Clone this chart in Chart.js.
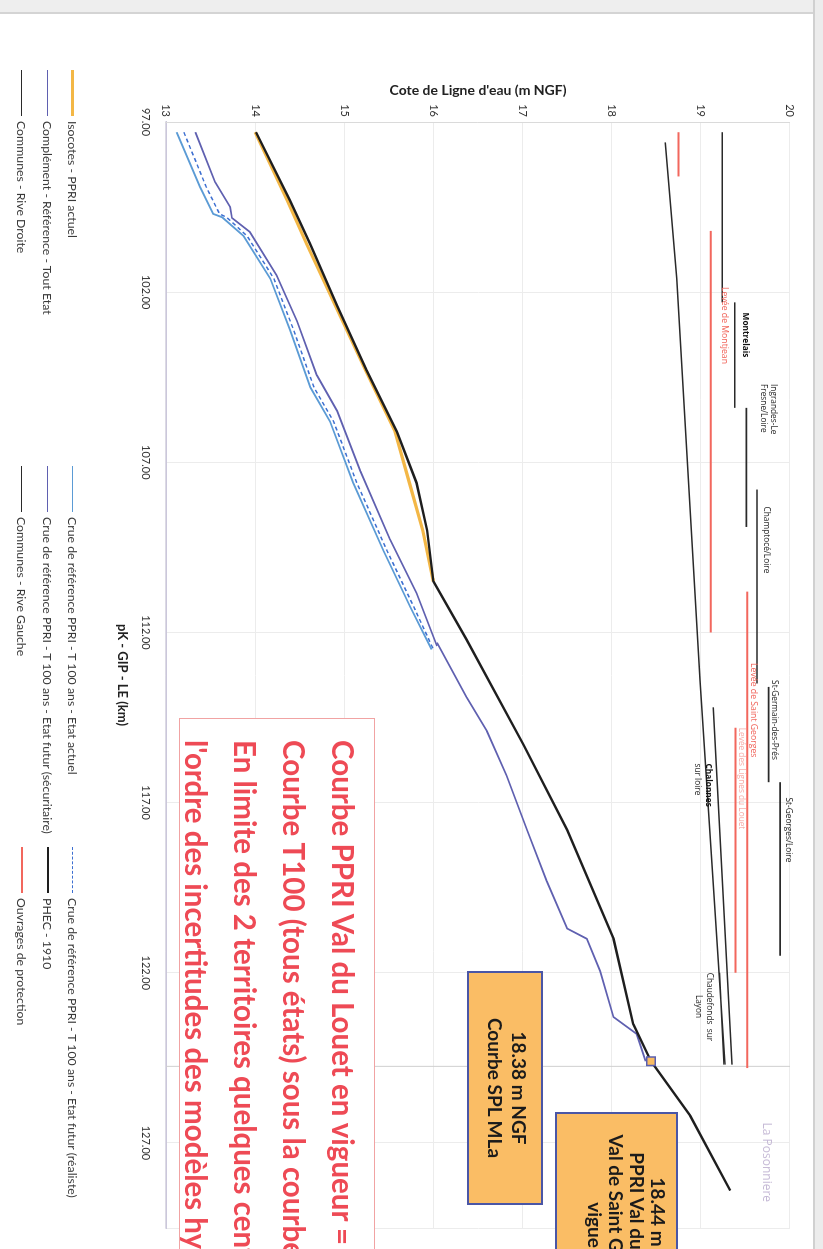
<!DOCTYPE html>
<html lang="fr">
<head>
<meta charset="utf-8">
<title>Lignes d'eau - Loire aval</title>
<script src="https://cdn.jsdelivr.net/npm/chart.js@4.4.1/dist/chart.umd.min.js"></script>
<style>
  html, body { margin:0; padding:0; width:823px; height:1249px; overflow:hidden; background:#fff; }
  /* landscape slide, turned a quarter turn clockwise onto the portrait page */
  #sheet { position:absolute; left:0; top:0; width:1249px; height:823px;
           transform-origin:0 0; transform:translate(823px,0) rotate(90deg);
           background:#fff; overflow:hidden; font-family:Lato,'Open Sans',sans-serif; }
  #sheet canvas { position:absolute; left:0; top:0; }
  .band-a { position:absolute; left:0; top:0; width:12px; height:823px; background:#eeeeee; border-right:2px solid #d4d4d4; }
  .band-b { position:absolute; left:0; top:0; width:1249px; height:8px; background:#ececec; border-bottom:2px solid #d0d0d0; }
  .leg { position:absolute; height:14px; display:flex; align-items:center; white-space:nowrap;
         font-size:12.3px; color:#3a3a3a; }
  .leg .sw { display:inline-block; width:46px; margin-right:5px; height:0; }
  .box { position:absolute; box-sizing:border-box; background:#fabd65; border:2px solid #4a56a6;
         text-align:center; font-weight:bold; color:#1b1b1b; font-size:19px; }
  .note { position:absolute; box-sizing:border-box; background:#fff; border:1.5px solid #f1a3a3;
          color:#ee4a55; font-weight:bold; font-size:29.5px; white-space:nowrap; }
</style>
</head>
<body>
<div id="sheet">
  <canvas id="c" width="1249" height="823" style="width:1249px;height:823px"></canvas>
  <div class="band-a"></div>
  <div class="band-b"></div>
  <div id="legend"></div>
  <div class="box" style="left:971px;top:280px;width:234px;height:76px;padding-top:10px;line-height:24px">18.38 m NGF<br>Courbe SPL MLa</div>
  <div class="box" style="left:1112px;top:145px;width:228px;height:123px;padding:7px 0 0 16px;line-height:21px">18.44 m NGF<br>PPRI Val du Louet /<br>Val de Saint Georges en<br>vigueur</div>
  <div class="note" style="left:718px;top:448px;width:740px;height:196px;padding:6px 0 0 21px;line-height:49px">
    Courbe PPRI Val du Louet en vigueur = PHEC 1910<br>
    Courbe T100 (tous états) sous la courbe PHEC<br>
    En limite des 2 territoires quelques centimètres<br>
    l'ordre des incertitudes des modèles hydrauliques
  </div>
</div>
<script>
// ---- axis ticks ----
const pkTicks   = [97, 102, 107, 112, 117, 122, 127];
const coteTicks = [13, 14, 15, 16, 17, 18, 19, 20];

// ---- water lines: pK (km) and level (m NGF) ----
const phecPk   = [97.3, 99.3, 100.6, 102.4, 104.3, 106.1, 107.6, 109.0, 110.5, 112.2, 115.3, 117.8, 121.0, 123.5, 124.6, 126.2, 128.4];
const phecCote = [14.01, 14.39, 14.62, 14.92, 15.25, 15.59, 15.81, 15.93, 16.00, 16.37, 17.01, 17.50, 18.02, 18.24, 18.44, 18.88, 19.33];

const isoPk   = [97.3, 99.3, 100.6, 102.4, 104.3, 106.1, 107.6, 109.0, 110.5];
const isoCote = [14.00, 14.36, 14.58, 14.90, 15.24, 15.57, 15.73, 15.88, 16.00];

const actuelPk   = [97.3, 98.9, 99.7, 99.8, 100.35, 101.6, 103.1, 104.8, 105.8, 107.6, 109.6, 111.25, 112.5];
const actuelCote = [13.12, 13.38, 13.53, 13.63, 13.87, 14.17, 14.39, 14.62, 14.84, 15.10, 15.44, 15.74, 15.98];

const realistePk   = [97.3, 98.9, 99.7, 99.8, 100.35, 101.6, 103.1, 104.8, 105.8, 107.6, 109.6, 111.25, 112.5];
const realisteCote = [13.20, 13.45, 13.60, 13.68, 13.91, 14.21, 14.43, 14.66, 14.88, 15.14, 15.48, 15.78, 16.00];

const securPk   = [97.3, 98.76, 99.5, 99.82, 100.23, 101.5, 102.85, 104.43, 105.49, 107.26, 109.25, 110.84, 112.4];
const securCote = [13.33, 13.55, 13.72, 13.74, 13.94, 14.24, 14.47, 14.69, 14.92, 15.18, 15.51, 15.81, 16.04];

const complPk   = [112.3, 113.9, 114.9, 116.2, 117.8, 119.3, 120.7, 121.0, 121.95, 123.3, 123.8, 124.6];
const complCote = [16.04, 16.37, 16.60, 16.82, 17.05, 17.27, 17.50, 17.72, 17.87, 18.02, 18.28, 18.38];

// ---- communes, right bank: flat segments ----
const rdStart = [97.3, 102.3, 105.4, 107.8, 113.6, 116.4];
const rdEnd   = [102.3, 105.4, 108.9, 113.5, 116.4, 121.5];
const rdCote  = [19.24, 19.38, 19.51, 19.63, 19.76, 19.89];

// ---- communes, left bank: polylines ----
const rgPk   = [[97.6, 101.6, 113.4, 124.7], [114.2, 124.7], [122.0, 124.7]];
const rgCote = [[18.60, 18.73, 18.99, 19.27], [19.14, 19.35], [19.21, 19.26]];

// ---- flood defences (levées) ----
const ouvStart = [97.3, 100.2, 110.8, 114.8];
const ouvEnd   = [98.6, 112.0, 124.8, 122.0];
const ouvCote  = [18.75, 19.11, 19.52, 19.39];

// ---- limit between the two territories, reference point ----
const limitePk   = 124.75;
const repere     = { pk: 124.6, cote: 18.44 };

// ---- place names along the profile ----
const placeNames = ['Montrelais', 'Levée de Montjean', 'Ingrandes-Le', 'Fresne/Loire', 'Champtocé/Loire',
                    'Levée de Saint Georges', 'St-Germain-des-Prés', 'Levée des Lignes du Louet', 'St-Georges/Loire',
                    'Chalonnes', 'sur loire', 'Chaudefonds  sur', 'Layon', 'La Posonniere'];
const placePk    = [102.6, 101.85, 104.7, 104.7, 108.3, 112.9, 113.4, 114.8, 116.85, 115.85, 115.85, 122.0, 122.65, 126.4];
const placeCote  = [19.50, 19.27, 19.81, 19.70, 19.74, 19.59, 19.83, 19.46, 19.98, 19.08, 18.96, 19.10, 18.97, 19.74];
const placeKind  = ['bold', 'levee', 'commune', 'commune', 'commune', 'levee', 'commune', 'leveeFaint', 'commune',
                    'bold', 'commune', 'commune', 'commune', 'lieu'];

// ---------------------------------------------------------------
const pts = (xs, ys) => xs.map((x, i) => ({ x, y: ys[i] }));
function flatSegments(starts, ends, cotes) {
  const out = [];
  starts.forEach((s, i) => {
    out.push({ x: s, y: cotes[i] }, { x: ends[i], y: cotes[i] }, { x: ends[i] + 0.001, y: null });
  });
  return out;
}
function polylines(xss, yss) {
  const out = [];
  xss.forEach((xs, k) => {
    xs.forEach((x, i) => out.push({ x, y: yss[k][i] }));
    out.push({ x: xs[xs.length - 1] + 0.001, y: null });
  });
  return out;
}

const base = { pointRadius: 0, fill: false, tension: 0, spanGaps: false };
const datasets = [
  { ...base, label: 'PHEC - 1910', data: pts(phecPk, phecCote), borderColor: '#1e1e1e', borderWidth: 2.4, order: 1 },
  { ...base, label: 'Isocotes - PPRI actuel', data: pts(isoPk, isoCote), borderColor: '#f3b746', borderWidth: 3.2, order: 6 },
  { ...base, label: 'Crue de référence PPRI - T 100 ans - Etat actuel', data: pts(actuelPk, actuelCote), borderColor: '#5b9bd5', borderWidth: 1.8, order: 4 },
  { ...base, label: 'Crue de référence PPRI - T 100 ans - Etat futur (réaliste)', data: pts(realistePk, realisteCote), borderColor: '#3d6fd1', borderWidth: 1.5, borderDash: [4, 3], order: 3 },
  { ...base, label: 'Crue de référence PPRI - T 100 ans - Etat futur (sécuritaire)', data: pts(securPk, securCote), borderColor: '#5f60b0', borderWidth: 1.8, order: 4 },
  { ...base, label: 'Complément - Référence - Tout Etat', data: pts(complPk, complCote), borderColor: '#5f60b0', borderWidth: 1.8, order: 4 },
  { ...base, label: 'Communes - Rive Droite', data: flatSegments(rdStart, rdEnd, rdCote), borderColor: '#2a2a2a', borderWidth: 1.7, order: 5 },
  { ...base, label: 'Communes - Rive Gauche', data: polylines(rgPk, rgCote), borderColor: '#2a2a2a', borderWidth: 1.5, order: 5 },
  { ...base, label: 'Ouvrages de protection', data: flatSegments(ouvStart, ouvEnd, ouvCote), borderColor: '#f2675d', borderWidth: 2, order: 5 },
  { ...base, label: 'limite', data: [{ x: limitePk, y: 13 }, { x: limitePk, y: 20 }], borderColor: '#cfcfcf', borderWidth: 1, order: 9 },
  { ...base, label: 'repère', data: [{ x: repere.pk, y: repere.cote }], showLine: false, pointStyle: 'rect',
    pointRadius: 6, backgroundColor: '#f9bc62', pointBorderColor: '#5a5fb0', pointBorderWidth: 1.5, order: 0 }
];

const kindStyle = {
  commune:    { font: "8.3px 'Open Sans', sans-serif", color: '#222' },
  bold:       { font: "bold 8.3px 'Open Sans', sans-serif", color: '#111' },
  levee:      { font: "8.7px 'Open Sans', sans-serif", color: '#f06157' },
  leveeFaint: { font: "8.3px 'Open Sans', sans-serif", color: 'rgba(240,97,87,0.55)' },
  lieu:       { font: "12px 'Open Sans', sans-serif", color: '#c6bad6' }
};

const placeLabels = {
  id: 'placeLabels',
  afterDatasetsDraw(chart) {
    const { ctx, scales: { x, y } } = chart;
    ctx.save();
    ctx.textAlign = 'left';
    ctx.textBaseline = 'middle';
    placeNames.forEach((name, i) => {
      const st = kindStyle[placeKind[i]];
      ctx.font = st.font;
      ctx.fillStyle = st.color;
      ctx.fillText(name, x.getPixelForValue(placePk[i]), y.getPixelForValue(placeCote[i]));
    });
    ctx.restore();
  }
};

Chart.defaults.font.family = "Lato, 'Open Sans', sans-serif";

new Chart(document.getElementById('c'), {
  type: 'line',
  data: { datasets },
  plugins: [placeLabels],
  options: {
    responsive: false,
    animation: false,
    devicePixelRatio: 1,
    layout: { padding: { left: 78, right: 21, top: 33, bottom: 110 } },
    plugins: { legend: { display: false }, tooltip: { enabled: false } },
    scales: {
      x: {
        type: 'linear', min: 97, max: 129.5,
        afterBuildTicks: (s) => { s.ticks = [...pkTicks, 129.5].map(v => ({ value: v })); },
        afterFit: (s) => { s.height = 56; },
        ticks: { autoSkip: false, maxRotation: 0, padding: 14, color: '#333', font: { size: 11 },
                 callback: (v) => pkTicks.includes(v) ? Number(v).toFixed(2) : '' },
        grid: { color: '#ececec', drawTicks: false },
        border: { color: '#cbc7db', width: 1.5 },
        title: { display: true, text: 'pK - GIP - LE (km)', color: '#222', font: { size: 13, weight: 'bold' } }
      },
      y: {
        type: 'linear', min: 13, max: 20,
        afterBuildTicks: (s) => { s.ticks = coteTicks.map(v => ({ value: v })); },
        afterFit: (s) => { s.width = 44; },
        ticks: { padding: 5, color: '#333', font: { size: 11 } },
        grid: { color: '#ececec', drawTicks: false },
        border: { color: '#dadada', width: 1 },
        title: { display: true, text: "Cote de Ligne d'eau (m NGF)", color: '#222', font: { size: 14, weight: 'bold' } }
      }
    }
  }
});

// ---- legend, three rows of three entries ----
const legendGrid = [
  ['Isocotes - PPRI actuel', 'Crue de référence PPRI - T 100 ans - Etat actuel', 'Crue de référence PPRI - T 100 ans - Etat futur (réaliste)'],
  ['Complément - Référence - Tout Etat', 'Crue de référence PPRI - T 100 ans - Etat futur (sécuritaire)', 'PHEC - 1910'],
  ['Communes - Rive Droite', 'Communes - Rive Gauche', 'Ouvrages de protection']
];
const legendCols = [70, 466, 847];
const legendRows = [750, 775, 801];
const legendBox = document.getElementById('legend');
legendGrid.forEach((row, r) => row.forEach((name, c) => {
  const ds = datasets.find(d => d.label === name);
  const item = document.createElement('div');
  item.className = 'leg';
  item.style.left = legendCols[c] + 'px';
  item.style.top = (legendRows[r] - 7) + 'px';
  const sw = document.createElement('span');
  sw.className = 'sw';
  sw.style.borderTop = `${Math.max(1.5, ds.borderWidth)}px ${ds.borderDash ? 'dashed' : 'solid'} ${ds.borderColor}`;
  item.appendChild(sw);
  item.appendChild(document.createTextNode(name));
  legendBox.appendChild(item);
}));
</script>
</body>
</html>
